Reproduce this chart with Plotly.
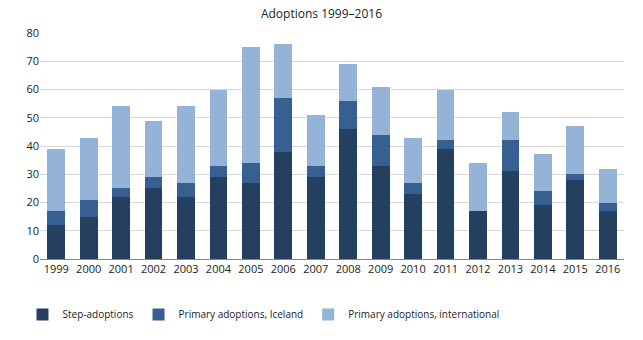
import plotly.graph_objects as go

years = ["1999","2000","2001","2002","2003","2004","2005","2006","2007","2008",
         "2009","2010","2011","2012","2013","2014","2015","2016"]
step = [12, 15, 22, 25, 22, 29, 27, 38, 29, 46, 33, 23, 39, 17, 31, 19, 28, 17]
iceland = [5, 6, 3, 4, 5, 4, 7, 19, 4, 10, 11, 4, 3, 0, 11, 5, 2, 3]
international = [22, 22, 29, 20, 27, 27, 41, 19, 18, 13, 17, 16, 18, 17, 10, 13, 17, 12]

names = ["Step-adoptions", "Primary adoptions, Iceland", "Primary adoptions, international"]
colors = ["#243F60", "#366092", "#95B3D7"]

fig = go.Figure()
for name, vals, c in zip(names, [step, iceland, international], colors):
    fig.add_trace(go.Bar(x=years, y=vals, name=name, marker=dict(color=c, line=dict(width=0))))

fig.update_layout(
    barmode="stack",
    bargap=0.45,
    width=643, height=340,
    margin=dict(l=40, r=19, t=33, b=80),
    paper_bgcolor="white", plot_bgcolor="white",
    font=dict(family="Open Sans, Liberation Sans, sans-serif", size=11, color="#222"),
    title=dict(text="Adoptions 1999–2016", x=0.5, xanchor="center", y=0.96, yanchor="middle",
               font=dict(size=12, color="#222")),
    legend=dict(orientation="h", x=-0.03, xanchor="left", y=-0.24, yanchor="middle",
                traceorder="normal", font=dict(size=10),
                itemsizing="constant"),
    yaxis=dict(range=[0, 80], dtick=10, showgrid=True, gridcolor="#D9D9D9", gridwidth=1,
               zeroline=False, ticks="", ticklen=0, tickfont=dict(size=11)),
    xaxis=dict(showline=True, linecolor="#868686", linewidth=1, ticks="",
               tickfont=dict(size=11)),
)
fig.write_html("out.html")
